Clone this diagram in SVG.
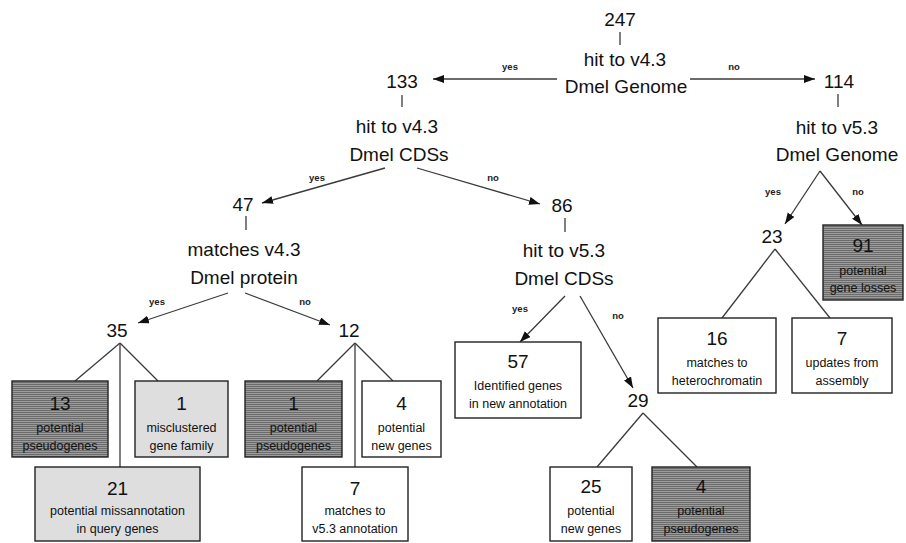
<svg xmlns="http://www.w3.org/2000/svg" width="906" height="543" viewBox="0 0 906 543">
<style>
text{font-family:"Liberation Sans",Arial,sans-serif;fill:#111;text-anchor:middle}
.n{font-size:19px}
.l{font-size:19px}
.s{font-size:12.5px}
.yn{font-size:9.5px;font-weight:bold;fill:#222}
.box{stroke:#222;stroke-width:1.4}
.dark{fill:url(#stripes)}
.light{fill:#dedede}
.white{fill:#fff}
#connectors line{stroke:#3a3a3a;stroke-width:1.3;fill:none}
#connectors line.arr{marker-end:url(#ah)}
</style>
<defs>
<pattern id="stripes" patternUnits="userSpaceOnUse" width="4" height="2">
<rect width="4" height="2" fill="#9c9c9c"/>
<rect width="4" height="1" fill="#6c6c6c"/>
</pattern>
<marker id="ah" markerUnits="userSpaceOnUse" markerWidth="12" markerHeight="10" refX="11" refY="4" orient="auto">
<path d="M0,0 L11,4 L0,8 Z" fill="#111"/>
</marker>
</defs>
<rect width="906" height="543" fill="#fff"/>
<g id="connectors">
<line x1="620" y1="32" x2="620" y2="45"/>
<line class="arr" x1="557" y1="79" x2="433" y2="79"/>
<line class="arr" x1="690" y1="79" x2="815" y2="79"/>
<line x1="402" y1="95" x2="402" y2="107"/>
<line class="arr" x1="385" y1="168" x2="262" y2="203"/>
<line class="arr" x1="417" y1="168" x2="540" y2="204"/>
<line x1="246" y1="216" x2="246" y2="230"/>
<line class="arr" x1="228" y1="293" x2="138" y2="323"/>
<line class="arr" x1="245" y1="293" x2="330" y2="325"/>
<line x1="120" y1="343" x2="75" y2="381"/>
<line x1="120" y1="343" x2="158" y2="381"/>
<line x1="120" y1="343" x2="120" y2="467"/>
<line x1="355" y1="343" x2="317" y2="381"/>
<line x1="355" y1="343" x2="393" y2="381"/>
<line x1="355" y1="343" x2="355" y2="467"/>
<line x1="565" y1="218" x2="565" y2="232"/>
<line class="arr" x1="565" y1="296" x2="520" y2="342"/>
<line class="arr" x1="580" y1="296" x2="633" y2="388"/>
<line x1="643" y1="413" x2="597" y2="467"/>
<line x1="643" y1="413" x2="697" y2="467"/>
<line x1="838" y1="94" x2="838" y2="107"/>
<line class="arr" x1="820" y1="171" x2="785" y2="224"/>
<line class="arr" x1="820" y1="171" x2="862" y2="225"/>
<line x1="775" y1="249" x2="722" y2="318"/>
<line x1="775" y1="249" x2="830" y2="318"/>
<text class="yn" x="510" y="70">yes</text>
<text class="yn" x="734" y="70">no</text>
<text class="yn" x="317" y="181">yes</text>
<text class="yn" x="493" y="181">no</text>
<text class="yn" x="157" y="305">yes</text>
<text class="yn" x="305" y="305">no</text>
<text class="yn" x="520" y="312">yes</text>
<text class="yn" x="618" y="319">no</text>
<text class="yn" x="773" y="195">yes</text>
<text class="yn" x="858" y="195">no</text>
</g>
<g id="n247"><text class="n" x="620" y="26">247</text><text class="l" x="625" y="66">hit to v4.3</text><text class="l" x="626" y="93">Dmel Genome</text></g>
<g id="n133"><text class="n" x="402" y="88">133</text><text class="l" x="397" y="133">hit to v4.3</text><text class="l" x="399" y="161">Dmel CDSs</text></g>
<g id="n114"><text class="n" x="839" y="88">114</text><text class="l" x="837" y="134">hit to v5.3</text><text class="l" x="837" y="161">Dmel Genome</text></g>
<g id="n47"><text class="n" x="243" y="211">47</text><text class="l" x="244" y="256">matches v4.3</text><text class="l" x="244" y="284">Dmel protein</text></g>
<g id="n86"><text class="n" x="562" y="212">86</text><text class="l" x="564" y="257">hit to v5.3</text><text class="l" x="564" y="285">Dmel CDSs</text></g>
<g id="n35"><text class="n" x="117" y="337">35</text></g>
<g id="n12"><text class="n" x="349" y="337">12</text></g>
<g id="n29"><text class="n" x="638" y="407">29</text></g>
<g id="n23"><text class="n" x="772" y="243">23</text></g>
<g id="b13"><rect class="box dark" x="12" y="381" width="96" height="76"/><text class="n" x="60" y="410">13</text><text class="s" x="60" y="432">potential</text><text class="s" x="60" y="450">pseudogenes</text></g>
<g id="b1a"><rect class="box light" x="135" y="381" width="93" height="76"/><text class="n" x="181.5" y="410">1</text><text class="s" x="181.5" y="432">misclustered</text><text class="s" x="181.5" y="450">gene family</text></g>
<g id="b21"><rect class="box light" x="35" y="467" width="165" height="74"/><text class="n" x="117.5" y="495">21</text><text class="s" x="117.5" y="515">potential missannotation</text><text class="s" x="117.5" y="533">in query genes</text></g>
<g id="b1b"><rect class="box dark" x="245" y="381" width="97" height="76"/><text class="n" x="293.5" y="410">1</text><text class="s" x="293.5" y="432">potential</text><text class="s" x="293.5" y="450">pseudogenes</text></g>
<g id="b4a"><rect class="box white" x="362" y="381" width="79" height="76"/><text class="n" x="401.5" y="410">4</text><text class="s" x="401.5" y="432">potential</text><text class="s" x="401.5" y="450">new genes</text></g>
<g id="b7a"><rect class="box white" x="302" y="467" width="106" height="74"/><text class="n" x="355" y="495">7</text><text class="s" x="355" y="515">matches to</text><text class="s" x="355" y="533">v5.3 annotation</text></g>
<g id="b57"><rect class="box white" x="455" y="342" width="126" height="76"/><text class="n" x="518" y="368">57</text><text class="s" x="518" y="390">Identified genes</text><text class="s" x="518" y="408">in new annotation</text></g>
<g id="b25"><rect class="box white" x="550" y="467" width="82" height="74"/><text class="n" x="591" y="493">25</text><text class="s" x="591" y="515">potential</text><text class="s" x="591" y="533">new genes</text></g>
<g id="b4b"><rect class="box dark" x="652" y="467" width="98" height="74"/><text class="n" x="701" y="493">4</text><text class="s" x="701" y="515">potential</text><text class="s" x="701" y="533">pseudogenes</text></g>
<g id="b16"><rect class="box white" x="658" y="318" width="118" height="75"/><text class="n" x="717" y="345">16</text><text class="s" x="717" y="367">matches to</text><text class="s" x="717" y="385">heterochromatin</text></g>
<g id="b7b"><rect class="box white" x="792" y="318" width="100" height="75"/><text class="n" x="842" y="345">7</text><text class="s" x="842" y="367">updates from</text><text class="s" x="842" y="385">assembly</text></g>
<g id="b91"><rect class="box dark" x="823" y="225" width="80" height="75"/><text class="n" x="863" y="252">91</text><text class="s" x="863" y="275">potential</text><text class="s" x="863" y="292">gene losses</text></g>
</svg>
